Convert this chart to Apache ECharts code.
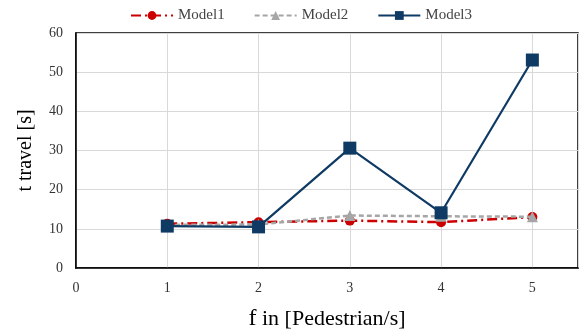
<!DOCTYPE html>
<html>
<head>
<meta charset="utf-8">
<script src="https://cdn.jsdelivr.net/npm/echarts@6/dist/echarts.min.js"></script>
<style>
html,body{margin:0;padding:0;background:#fff;}
#chart{width:581px;height:331px;}
</style>
</head>
<body>
<div id="chart"></div>
<script>
const xValues = [1, 2, 3, 4, 5];
const seriesNames = ['Model1', 'Model2', 'Model3'];
const model1 = [11.3, 11.7, 12.1, 11.7, 13.0];
const model2 = [11.0, 11.1, 13.4, 13.2, 13.1];
const model3 = [10.7, 10.5, 30.6, 14.1, 53.1];
const yTicks = [0, 10, 20, 30, 40, 50, 60];
const xTicks = [0, 1, 2, 3, 4, 5];

const font = 'Liberation Serif, Times New Roman, serif';
const pairs = arr => xValues.map((x, i) => [x, arr[i]]);

const chart = echarts.init(document.getElementById('chart'), null, {renderer: 'canvas'});
chart.setOption({
  animation: false,
  backgroundColor: '#fff',
  legend: {
    top: 3,
    left: 125,
    itemWidth: 42,
    itemHeight: 11,
    itemGap: 29,
    textStyle: {fontFamily: font, fontSize: 15, color: '#444'},
    data: seriesNames
  },
  grid: {
    left: 76, right: 3, top: 33, bottom: 63,
    show: true, borderColor: '#000', borderWidth: 1.5,
    containLabel: false, outerBoundsMode: 'none'
  },
  xAxis: {
    type: 'value',
    min: 0, max: 5.5, interval: 1,
    name: '{f|f}{s| in [Pedestrian/s]}',
    nameLocation: 'middle',
    nameGap: 39,
    nameTextStyle: {
      fontFamily: font, color: '#000',
      rich: {
        f: {fontFamily: font, fontSize: 24, color: '#000'},
        s: {fontFamily: font, fontSize: 22, color: '#000'}
      }
    },
    axisLine: {show: true, lineStyle: {color: '#000', width: 1.5}},
    axisTick: {show: false},
    axisLabel: {
      fontFamily: font, fontSize: 14, color: '#333', margin: 13,
      formatter: v => (xTicks.indexOf(v) >= 0 ? String(v) : '')
    },
    splitLine: {show: true, lineStyle: {color: '#d9d9d9', width: 1}}
  },
  yAxis: {
    type: 'value',
    min: yTicks[0], max: yTicks[yTicks.length - 1], interval: 10,
    name: 't travel [s]',
    nameLocation: 'middle',
    nameGap: 40,
    nameTextStyle: {fontFamily: font, fontSize: 20, color: '#000'},
    axisLine: {show: true, lineStyle: {color: '#000', width: 1.5}},
    axisTick: {show: false},
    axisLabel: {fontFamily: font, fontSize: 14, color: '#333', margin: 13},
    splitLine: {show: true, lineStyle: {color: '#d9d9d9', width: 1}}
  },
  series: [
    {
      name: seriesNames[0], type: 'line', z: 2,
      data: pairs(model1),
      symbol: 'circle', symbolSize: 10,
      itemStyle: {color: '#cc0000'},
      lineStyle: {color: '#cc0000', width: 2.5, type: [10, 4, 2, 4]}
    },
    {
      name: seriesNames[1], type: 'line', z: 3,
      data: pairs(model2),
      symbol: 'triangle', symbolSize: 11,
      itemStyle: {color: '#a6a6a6'},
      lineStyle: {color: '#a6a6a6', width: 2.5, type: [5, 3]}
    },
    {
      name: seriesNames[2], type: 'line', z: 4,
      data: pairs(model3),
      symbol: 'rect', symbolSize: 13,
      itemStyle: {color: '#0e3a64'},
      lineStyle: {color: '#0e3a64', width: 2.2, type: 'solid'}
    }
  ]
});
</script>
</body>
</html>
